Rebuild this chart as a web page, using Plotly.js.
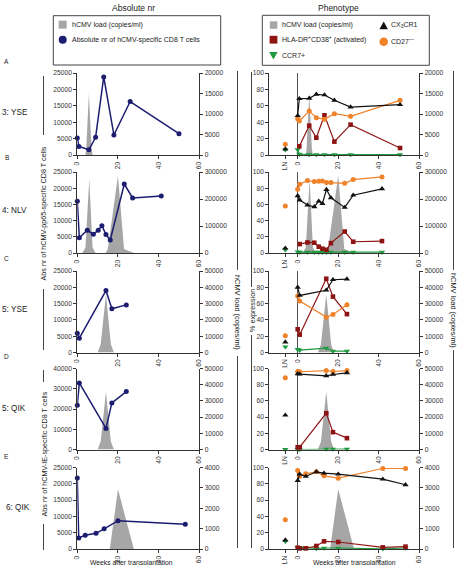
<!DOCTYPE html>
<html><head><meta charset="utf-8">
<script src="https://cdn.plot.ly/plotly-3.0.1.min.js"></script>
<style>html,body{margin:0;padding:0;background:#fff}#chart{width:458px;height:565px}</style>
</head><body><div id="chart"></div>
<script>
// ---------- DATA ----------
const rowLabels = ['3: YSE', '4: NLV', '5: YSE', '5: QIK', '6: QIK'];
const rowLetters = ['A', 'B', 'C', 'D', 'E'];
const phenTickText = ['LN', '0', '20', '40', '60'];
const absTickText = ['0', '20', '40', '60'];

// hCMV load (copies/ml)
const wkLoad3 = [0, 4, 4.4, 5.7, 7, 7.5, 60];
const load3 = [0, 0, 1500, 15000, 1500, 0, 0];
const wkLoad4 = [0, 2.5, 4, 5.9, 7.5, 9, 14, 15, 20, 23, 25, 28, 60];
const load4 = [0, 0, 20000, 274000, 20000, 0, 0, 15000, 286000, 15000, 8000, 0, 0];
const wkLoad5 = [0, 10, 11.5, 14.1, 16.5, 18, 60];
const load5 = [0, 0, 5000, 35800, 5000, 0, 0];
const wkLoad6 = [0, 16, 20, 27.8, 60];
const load6 = [0, 0, 2930, 0, 0];

// Absolute nr of hCMV-specific CD8 T cells
const wkAbs3 = [0, 0.8, 5.7, 9, 13, 18, 26, 50];
const abs3YSE = [5200, 2600, 1600, 5400, 23800, 6100, 16300, 6500];
const wkAbs4 = [0, 1, 4.9, 7.9, 10.3, 12.1, 14.1, 16.2, 23.1, 27.2, 41.3];
const abs4NLV = [16000, 4700, 7000, 5800, 7000, 8400, 5700, 4000, 21300, 17000, 17600];
const wkAbs5 = [0, 1, 14.1, 17, 24.1];
const abs5YSE = [5900, 4400, 19000, 13400, 14600];
const abs5QIK = [21900, 32900, 10400, 23000, 28600];
const wkAbs6 = [0, 0.7, 3.9, 9.2, 13.2, 20, 53.1];
const abs6QIK = [21800, 3400, 4200, 4800, 6200, 8700, 7600];

// Phenotype (% expression)
const wkPhen3 = [0, 0.8, 5.7, 9.2, 13.2, 18.1, 26.1, 50.5];
const cx3cr1_3 = [48, 68.7, 69.1, 74, 73.2, 66.7, 58.5, 61.4];
const cd27_3 = [44.3, 41.5, 53.7, 45.5, 43.5, 50.4, 47.2, 66.7];
const hla_3 = [null, 10.6, 35.8, 21.1, 48.4, 16.3, 37, 8.5];
const ccr7_3 = [6.5, 1, 0.5, 0.5, 0.5, 0.5, 0.5, 0.5];

const wkPhen4 = [0, 1, 4.8, 8.2, 10.4, 12.2, 14.2, 16.4, 23.2, 27.4, 41.6];
const cx3cr1_4 = [70.6, 65.3, 59.2, 57, 64, 61, 78.4, 68.2, 56.3, 71.4, 79.2];
const cd27_4 = [78.8, 85, 89.4, 88.2, 88.6, 89, 87, 87, 86, 90.6, 93.9];
const hla_4 = [null, 11, 13, 12.7, 7.8, 5.3, 4, 12.2, 26.5, 13.9, 14.7];
const ccr7_4 = [1.5, 1, 1, 1, 1, 1, 1, 1, 1, 1, 1];

const wkPhen5 = [0, 1, 14.1, 17.4, 24.3];
const cx3cr1_5Y = [80, 70, 76.4, 89.3, 90.1];
const cd27_5Y = [69.4, 63.2, 43.4, 46.7, 58.7];
const hla_5Y = [28.5, 21.9, 90.5, 68.6, 47.1];
const ccr7_5Y = [3.7, 2.9, 5.4, 1.6, 1.6];

const cx3cr1_5Q = [93.4, 93, 90.9, 92.6, 94.7];
const cd27_5Q = [96.3, 96, 97.5, 96.3, 97.5];
const hla_5Q = [2.8, 2.8, 44.8, 21.4, 14];
const ccr7_5Q = [0, 0, 0.5, 0.5, 0.5];

const wkPhen6 = [0, 1, 4, 9.2, 13, 20, 42, 53.2];
const cx3cr1_6 = [84, 91.8, 89, 94.7, 93, 91.8, 85.7, 78.8];
const cd27_6 = [96.3, 89.4, 92.2, 94.7, 89.8, 86.9, 98.8, 98.8];
const hla_6 = [1.6, 0.8, 0.8, 3.7, 9.4, 8.6, 2, 2.9];
const ccr7_6 = [2, 2, 2, 0.5, 1.2, 1.2, 0.3, 1.2];

// Lymph node (LN) values per row
const lnCX3CR1 = [7.3, 6, 12.8, 42.3, 11];
const lnCD27 = [13, 58, 20.7, 88.5, 35.9];
const lnCCR7 = [6.5, 4, 7, 0, 9.4];

// axis maxima
const absMax = [25000, 25000, 25000, 40000, 25000];
const absDtick = [5000, 5000, 5000, 10000, 5000];
const loadMax = [20000, 300000, 50000, 50000, 4000];
const loadDtick = [5000, 100000, 10000, 10000, 1000];

// ---------- GROUPING ----------
const rowsLoadX = [wkLoad3, wkLoad4, wkLoad5, wkLoad5, wkLoad6];
const rowsLoadY = [load3, load4, load5, load5, load6];
const rowsAbsX = [wkAbs3, wkAbs4, wkAbs5, wkAbs5, wkAbs6];
const rowsAbsY = [abs3YSE, abs4NLV, abs5YSE, abs5QIK, abs6QIK];
const rowsPhenX = [wkPhen3, wkPhen4, wkPhen5, wkPhen5, wkPhen6];
const rowsCX = [cx3cr1_3, cx3cr1_4, cx3cr1_5Y, cx3cr1_5Q, cx3cr1_6];
const rowsCD = [cd27_3, cd27_4, cd27_5Y, cd27_5Q, cd27_6];
const rowsHLA = [hla_3, hla_4, hla_5Y, hla_5Q, hla_6];
const rowsCCR = [ccr7_3, ccr7_4, ccr7_5Y, ccr7_5Q, ccr7_6];

// ---------- STYLE / LAYOUT ----------
const W = 458, H = 565;
const FONT = 'Liberation Sans, Arial, Helvetica, sans-serif';
const TXT = '#222';
const AX = '#333';
const GRAY = '#a6a6a6';
const NAVY = '#1c1c70';
const RED = '#8e1414';
const ORANGE = '#f0822a';
const GREEN = '#1f9a3e';
const BLACK = '#111111';
const LN_POS = -6.1;

const px = v => v / W;
const py = v => 1 - v / H;
const rowsPx = [[73, 155], [172, 253], [271, 352.5], [368.5, 449.5], [467.5, 549]];
const leftDom = [px(77.3), px(199.3)];
const rightDom = [px(269.3), px(419.3)];

const id = (l, n) => n === 1 ? l : l + n;
const key = (l, n) => n === 1 ? l + 'axis' : l + 'axis' + n;
const tickFont = {family: FONT, size: 6.7, color: AX};

const traces = [];
const layout = {
  width: W, height: H, autosize: false,
  margin: {l: 0, r: 0, t: 0, b: 0},
  paper_bgcolor: '#fff', plot_bgcolor: 'rgba(0,0,0,0)',
  showlegend: false,
  font: {family: FONT, size: 7, color: TXT},
  annotations: [], shapes: []
};

function addPanel(i, r, isPhen) {
  const xn = i + 1, yb = 2 * i + 1, yo = 2 * i + 2;
  const dom = [py(rowsPx[r][1]), py(rowsPx[r][0])];
  layout[key('x', xn)] = {
    domain: isPhen ? rightDom : leftDom, anchor: id('y', yb),
    range: isPhen ? [-14, 60] : [0, 60],
    showline: true, linecolor: AX, linewidth: 1, mirror: false,
    ticks: 'outside', ticklen: 3, tickcolor: AX, tickwidth: 1,
    tickmode: 'array',
    tickvals: isPhen ? [LN_POS, 0, 20, 40, 60] : [0, 20, 40, 60],
    ticktext: isPhen ? phenTickText : absTickText,
    tickangle: -90, tickfont: tickFont, showgrid: false,
    zeroline: isPhen, zerolinecolor: '#555', zerolinewidth: 1,
    fixedrange: true
  };
  layout[key('y', yb)] = {
    domain: dom, anchor: id('x', xn), side: 'right',
    range: [0, loadMax[r]], dtick: loadDtick[r], tick0: 0,
    tickformat: 'd', exponentformat: 'none',
    showline: true, linecolor: AX, linewidth: 1,
    ticks: 'outside', ticklen: 3, tickcolor: AX, tickfont: tickFont,
    showgrid: false, zeroline: false, fixedrange: true
  };
  layout[key('y', yo)] = {
    overlaying: id('y', yb), anchor: id('x', xn), side: 'left',
    range: isPhen ? [0, 100] : [0, absMax[r]],
    dtick: isPhen ? 20 : absDtick[r], tick0: 0,
    tickformat: 'd', exponentformat: 'none',
    showline: true, linecolor: AX, linewidth: 1,
    ticks: 'outside', ticklen: 3, tickcolor: AX, tickfont: tickFont,
    showgrid: false, zeroline: false, fixedrange: true
  };
  const xa = id('x', xn), yba = id('y', yb), yoa = id('y', yo);
  traces.push({
    x: rowsLoadX[r], y: rowsLoadY[r], type: 'scatter', mode: 'lines',
    fill: 'tozeroy', fillcolor: GRAY, line: {width: 0, color: GRAY},
    xaxis: xa, yaxis: yba, hoverinfo: 'skip'
  });
  if (!isPhen) {
    traces.push({
      x: rowsAbsX[r], y: rowsAbsY[r], type: 'scatter', mode: 'lines+markers',
      line: {color: NAVY, width: 1.5}, marker: {color: NAVY, size: 5},
      xaxis: xa, yaxis: yoa, cliponaxis: false
    });
  } else {
    const series = [
      [rowsCCR[r], GREEN, 'triangle-down', 5.5, lnCCR7[r]],
      [rowsHLA[r], RED, 'square', 4.6, null],
      [rowsCD[r], ORANGE, 'circle', 5, lnCD27[r]],
      [rowsCX[r], BLACK, 'triangle-up', 5.5, lnCX3CR1[r]]
    ];
    series.forEach(s => {
      traces.push({
        x: rowsPhenX[r], y: s[0], type: 'scatter', mode: 'lines+markers',
        line: {color: s[1], width: 1.2}, marker: {color: s[1], size: s[3], symbol: s[2]},
        xaxis: xa, yaxis: yoa, cliponaxis: false
      });
      if (s[4] !== null) {
        traces.push({
          x: [LN_POS], y: [s[4]], type: 'scatter', mode: 'markers',
          marker: {color: s[1], size: s[3], symbol: s[2]},
          xaxis: xa, yaxis: yoa, cliponaxis: false
        });
      }
    });
  }
}

for (let r = 0; r < 5; r++) addPanel(r, r, false);
for (let r = 0; r < 5; r++) addPanel(5 + r, r, true);

// ---------- TEXT ----------
function ann(text, x, y, o) {
  layout.annotations.push(Object.assign({
    text: text, x: px(x), y: py(y), xref: 'paper', yref: 'paper',
    showarrow: false, xanchor: 'center', yanchor: 'middle', borderpad: 0,
    font: {family: FONT, size: 7, color: TXT}
  }, o || {}));
}
function vline(x, y0, y1) {
  layout.shapes.push({type: 'line', xref: 'paper', yref: 'paper',
    x0: px(x), x1: px(x), y0: py(y0), y1: py(y1), line: {color: '#444', width: 1}});
}

ann('Absolute nr', 133, 8, {font: {family: FONT, size: 8.5, color: TXT}});
ann('Phenotype', 338, 8, {font: {family: FONT, size: 8.5, color: TXT}});

const labelY = [113, 210, 309, 408, 507];
const labelLeft = [1, 1, 1, 1, 5];
const letterY = [61, 157, 258, 356, 457];
for (let r = 0; r < 5; r++) {
  ann(rowLabels[r], labelLeft[r], labelY[r], {xanchor: 'left', font: {family: FONT, size: 8.2, color: TXT}});
  ann(rowLetters[r], 6.5, letterY[r], {font: {family: FONT, size: 6.5, color: TXT}});
}

ann('Abs nr of hCMV-pp65-specific CD8 T cells', 43.5, 214, {textangle: -90, font: {family: FONT, size: 7.2, color: TXT}});
ann('Abs nr of hCMV-IE-specific CD8 T cells', 43.5, 454, {textangle: -90, font: {family: FONT, size: 7.2, color: TXT}});
ann('hCMV load (copies/ml)', 238, 312, {textangle: 90, font: {family: FONT, size: 7.4, color: TXT}});
ann('hCMV load (copies/ml)', 454, 310, {textangle: 90, font: {family: FONT, size: 7.4, color: TXT}});
ann('% expression', 252, 310, {textangle: -90, font: {family: FONT, size: 7.2, color: TXT}});
ann('Weeks after transplantation', 131, 562.5, {font: {family: FONT, size: 6.8, color: TXT}});
ann('Weeks after transplantation', 354, 562.5, {font: {family: FONT, size: 6.8, color: TXT}});

vline(43.5, 76, 135); vline(43.5, 289, 350); vline(43.5, 370, 382); vline(43.5, 524, 550);
vline(237.5, 71, 270); vline(237.5, 356, 548);
vline(251.5, 72, 287); vline(251.5, 335, 548);
vline(453.5, 71, 270); vline(453.5, 350, 548);

// ---------- LEGEND BOXES ----------
function rect(x0, y0, x1, y1, fill, line) {
  layout.shapes.push({type: 'rect', xref: 'paper', yref: 'paper',
    x0: px(x0), x1: px(x1), y0: py(y1), y1: py(y0),
    fillcolor: fill, line: line});
}
function circ(cx, cy, rr, fill) {
  layout.shapes.push({type: 'circle', xref: 'paper', yref: 'paper',
    x0: px(cx - rr), x1: px(cx + rr), y0: py(cy + rr), y1: py(cy - rr),
    fillcolor: fill, line: {width: 0}});
}
function tri(cx, cy, s, up, fill) {
  const h = s * 0.9;
  const p = up
    ? `M ${px(cx - s / 2)} ${py(cy + h / 2)} L ${px(cx + s / 2)} ${py(cy + h / 2)} L ${px(cx)} ${py(cy - h / 2)} Z`
    : `M ${px(cx - s / 2)} ${py(cy - h / 2)} L ${px(cx + s / 2)} ${py(cy - h / 2)} L ${px(cx)} ${py(cy + h / 2)} Z`;
  layout.shapes.push({type: 'path', xref: 'paper', yref: 'paper', path: p, fillcolor: fill, line: {width: 0}});
}
const noLine = {width: 0};
rect(53.3, 15.7, 220.7, 65, 'rgba(0,0,0,0)', {color: '#444', width: 1});
rect(58.7, 20.7, 66.7, 28.7, GRAY, noLine);
ann('hCMV load (copies/ml)', 71, 24.7, {xanchor: 'left'});
circ(62.7, 39.7, 4, NAVY);
ann('Absolute nr of hCMV-specific CD8 T cells', 71, 39.7, {xanchor: 'left'});

rect(262.3, 15.3, 429.3, 65.3, 'rgba(0,0,0,0)', {color: '#444', width: 1});
rect(269.8, 21.3, 277.3, 28.8, GRAY, noLine);
ann('hCMV load (copies/ml)', 280.5, 25, {xanchor: 'left'});
rect(269.6, 35.8, 277.4, 43.6, RED, noLine);
ann('HLA-DR<sup>+</sup>CD38<sup>+</sup> (activated)', 280.5, 39.7, {xanchor: 'left'});
tri(273.4, 55.7, 8.5, false, GREEN);
ann('CCR7+', 280.7, 55.7, {xanchor: 'left'});
tri(383.7, 25.3, 8.5, true, BLACK);
ann('CX<sub>3</sub>CR1', 390, 25.3, {xanchor: 'left'});
circ(383.7, 41.7, 4.3, ORANGE);
ann('CD27<sup>—</sup>', 390, 41.2, {xanchor: 'left'});

Plotly.newPlot('chart', traces, layout, {staticPlot: true, displayModeBar: false});
</script></body></html>
